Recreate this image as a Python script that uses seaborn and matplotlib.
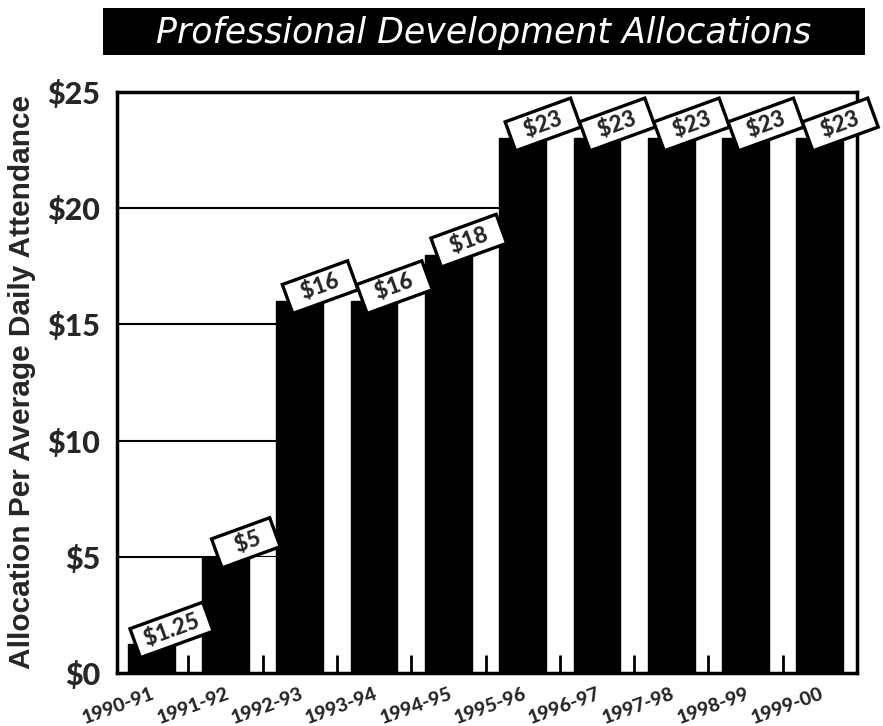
import numpy as np
import pandas as pd
import seaborn as sns
import matplotlib.pyplot as plt
from matplotlib.patches import Rectangle

years = ['1990-91', '1991-92', '1992-93', '1993-94', '1994-95',
         '1995-96', '1996-97', '1997-98', '1998-99', '1999-00']
allocation = [1.25, 5, 16, 16, 18, 23, 23, 23, 23, 23]
value_labels = ['$1.25', '$5', '$16', '$16', '$18', '$23', '$23', '$23', '$23', '$23']
y_ticks = [0, 5, 10, 15, 20, 25]
y_tick_labels = ['$0', '$5', '$10', '$15', '$20', '$25']

df = pd.DataFrame({'year': years, 'allocation': allocation})

sns.set_style('white')
plt.rcParams['font.family'] = ['Lato', 'DejaVu Sans']

fig = plt.figure(figsize=(8.83, 7.26), dpi=100)
ax = fig.add_axes([0.1325, 0.073, 0.8381, 0.8003])

# gridlines behind everything
for y in y_ticks[1:]:
    ax.axhline(y, color='black', lw=1.5, zorder=0)

pos = np.arange(len(years))
bw = 0.63
sns.barplot(data=df, x='year', y='allocation', color='black', width=bw,
            saturation=1, ax=ax, zorder=2)
for p in ax.patches:
    p.set_edgecolor('black')

# white "shadow" strips that hide the grid between bars
ax.bar(pos + 0.5, df['allocation'], width=0.37, color='white',
       edgecolor='none', zorder=1.5)

ax.set_axisbelow(False)
ax.set_xlim(-0.46, 9.5)
ax.set_ylim(0, 25)
ax.set_yticks(y_ticks)
ax.set_yticklabels(y_tick_labels, fontsize=22, fontweight='black')
ax.set_xticks(pos)
ax.set_xticklabels(years, fontsize=14, fontweight='black', rotation=20,
                   ha='right', rotation_mode='anchor')
ax.set_xticks(pos + 0.5, minor=True)
ax.tick_params(axis='x', which='major', length=0, pad=9)
ax.tick_params(axis='x', which='minor', bottom=True, direction='in',
               length=13, width=2, color='black')
ax.tick_params(axis='y', length=0, pad=12)
ax.set_xlabel('')
ax.set_ylabel('Allocation Per Average Daily Attendance', fontsize=21.5,
              fontweight='bold', family=['Liberation Sans', 'DejaVu Sans'],
              labelpad=8)

for s in ax.spines.values():
    s.set_visible(True)
    s.set_color('black')
    s.set_linewidth(2.5)
    s.set_zorder(5)

# tilted value tags
for i, (v, lab) in enumerate(zip(allocation, value_labels)):
    ax.annotate(lab.center(7), xy=(i + bw / 2, v), xytext=(-3, 14),
                textcoords='offset pixels', ha='center', va='center',
                rotation=20, fontsize=16, fontweight='black', zorder=6,
                annotation_clip=False,
                bbox=dict(boxstyle='square,pad=0.22', fc='white', ec='black', lw=2.4))

# title banner
fig.patches.append(Rectangle((0.1166, 0.9242), 0.863, 0.0647, transform=fig.transFigure,
                             facecolor='black', edgecolor='none'))
fig.text(0.548, 0.955, 'Professional Development Allocations', color='white',
         fontsize=25, style='italic', ha='center', va='center',
         family=['DejaVu Sans'])

fig.savefig('out.png', dpi=100)
